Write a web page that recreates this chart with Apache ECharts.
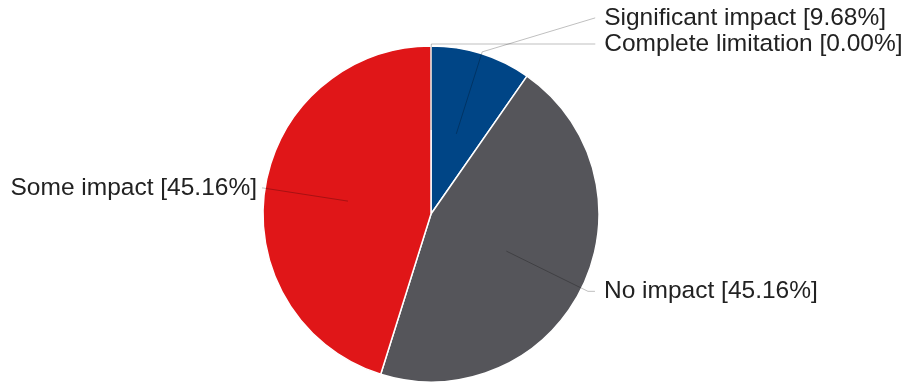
<!DOCTYPE html>
<html>
<head>
<meta charset="utf-8">
<script src="https://cdn.jsdelivr.net/npm/echarts@6/dist/echarts.min.js"></script>
<style>
html,body{margin:0;padding:0;background:#fff;}
#chart{width:909px;height:385px;}
</style>
</head>
<body>
<div id="chart"></div>
<script>
// Data
var categories = ['Complete limitation', 'Significant impact', 'No impact', 'Some impact'];
var counts = [0, 3, 14, 14];
var colors = ['#7f7f7f', '#004586', '#55555a', '#e01618'];

// per-label leader-line geometry (style only)
var lineLen = [86, 86, 91, 86];
var lineLen2 = [164, 113, 7, 1];
var labelGap = [9, 9, 9, 5];
var labelShiftY = [0, -34, 0, 0];

var chart = echarts.init(document.getElementById('chart'), null, {renderer: 'canvas'});

var fontFamily = '"Liberation Sans", Arial, Helvetica, sans-serif';

function pct(p) { return p.name + ' [' + p.percent.toFixed(2) + '%]'; }

var mainData = categories.map(function (c, i) {
  return { name: c, value: counts[i], itemStyle: { color: colors[i] } };
});
var overlayData = categories.map(function (c, i) {
  return {
    name: c, value: counts[i],
    labelLine: { length: lineLen[i], length2: lineLen2[i] },
    label: { distanceToLabelLine: labelGap[i] }
  };
});

chart.setOption({
  backgroundColor: '#ffffff',
  animation: false,
  series: [
    {
      type: 'pie',
      z: 2,
      center: [431, 214],
      radius: [0, 168],
      startAngle: 90,
      clockwise: true,
      silent: true,
      label: { show: false },
      labelLine: { show: false },
      itemStyle: { borderColor: '#ffffff', borderWidth: 1.5 },
      emphasis: { disabled: true },
      data: mainData
    },
    {
      type: 'pie',
      z: 5,
      center: [431, 214],
      radius: [0, 84],
      startAngle: 89.9,
      clockwise: true,
      silent: true,
      avoidLabelOverlap: false,
      itemStyle: { color: 'rgba(0,0,0,0)', borderWidth: 0 },
      emphasis: { disabled: true },
      label: {
        show: true,
        position: 'outside',
        formatter: pct,
        color: '#222222',
        fontSize: 24.5,
        fontFamily: fontFamily
      },
      labelLine: {
        show: true,
        lineStyle: { color: 'rgba(0,0,0,0.25)', width: 1 }
      },
      labelLayout: function (params) {
        var s = labelShiftY[params.dataIndex];
        if (!s || !params.labelLinePoints) return {};
        var pts = params.labelLinePoints.map(function (p) { return [p[0], p[1]]; });
        pts[pts.length - 1][1] += s;
        return { dy: s, labelLinePoints: pts };
      },
      data: overlayData
    }
  ]
});
</script>
</body>
</html>
